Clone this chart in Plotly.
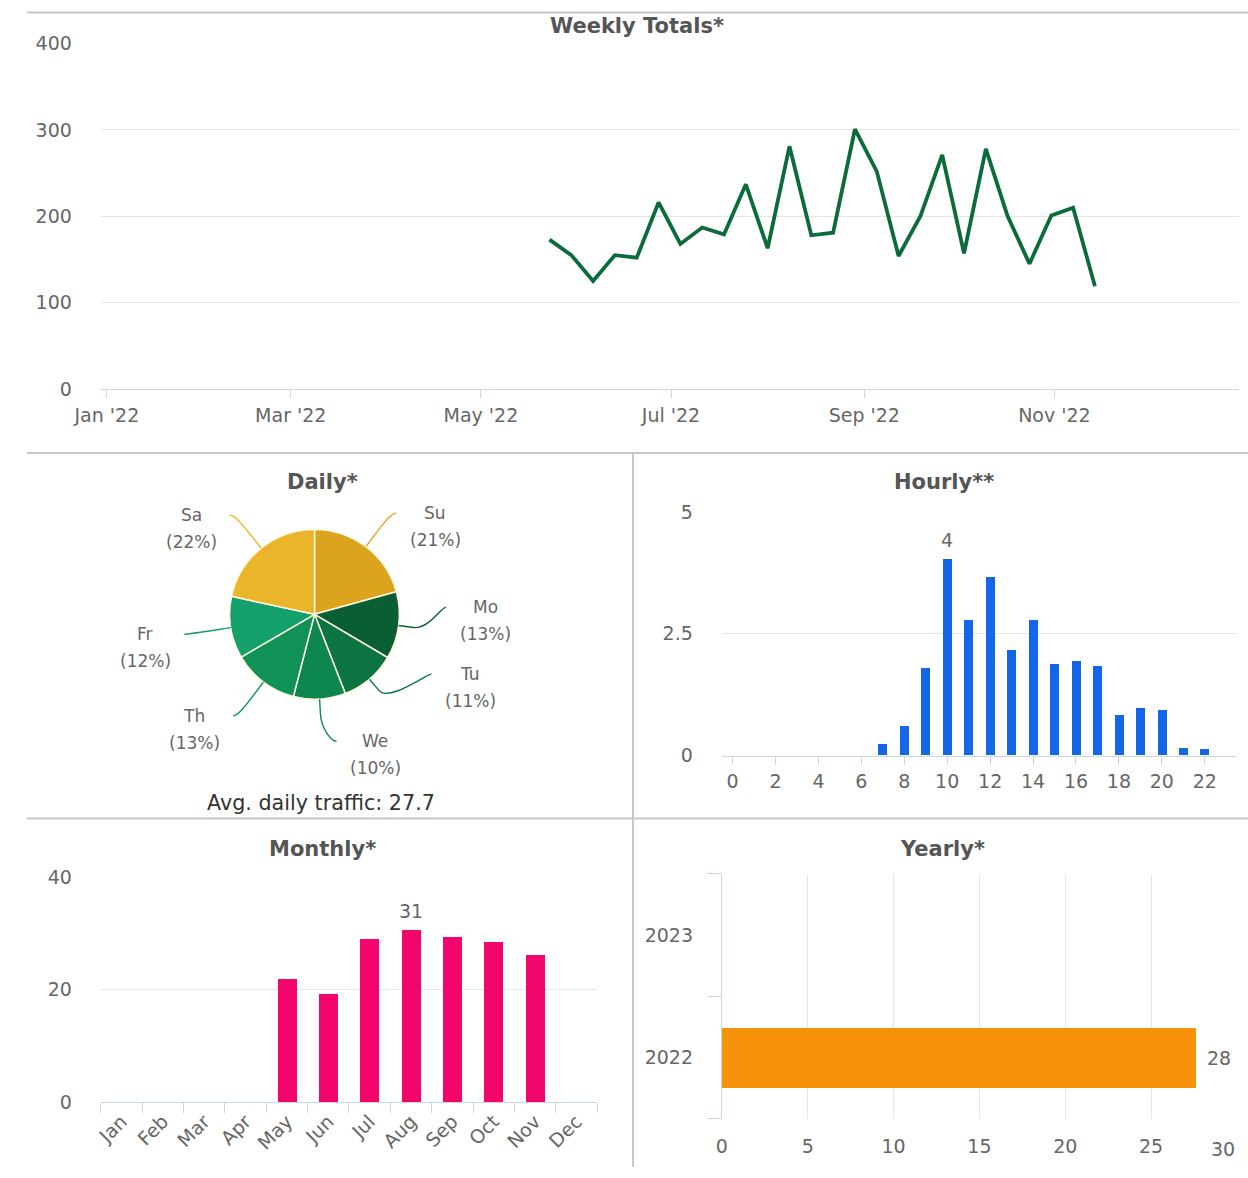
import numpy as np
import plotly.graph_objects as go

# ---------------- data ----------------
week_dates = ["2022-05-23", "2022-05-30", "2022-06-06", "2022-06-13", "2022-06-20", "2022-06-27",
              "2022-07-04", "2022-07-11", "2022-07-18", "2022-07-25", "2022-08-01", "2022-08-08",
              "2022-08-15", "2022-08-22", "2022-08-29", "2022-09-05", "2022-09-12", "2022-09-19",
              "2022-09-26", "2022-10-03", "2022-10-10", "2022-10-17", "2022-10-24", "2022-10-31",
              "2022-11-07", "2022-11-14"]
weekly_totals = [173, 155, 125, 155, 152, 216, 168, 187, 179, 237, 163, 281, 178, 181, 301,
                 252, 154, 200, 271, 157, 278, 200, 145, 201, 210, 119]

days = ["Su", "Mo", "Tu", "We", "Th", "Fr", "Sa"]
daily_share = [20.7, 12.8, 10.6, 9.9, 12.6, 11.8, 21.6]
day_colors = ["#dca41c", "#0a5e34", "#0c7443", "#0e8650", "#0f9157", "#13a06b", "#ebb529"]
avg_daily = 27.7

hours = list(range(24))
hourly = [0, 0, 0, 0, 0, 0, 0, 0.24, 0.61, 1.79, 4.03, 2.79, 3.66, 2.16, 2.79, 1.87,
          1.94, 1.83, 0.82, 0.97, 0.94, 0.16, 0.13, 0]

months = ["Jan", "Feb", "Mar", "Apr", "May", "Jun", "Jul", "Aug", "Sep", "Oct", "Nov", "Dec"]
monthly = [None, None, None, None, 22.0, 19.35, 29.1, 30.7, 29.4, 28.5, 26.25, None]

years = ["2022", "2023"]
yearly = [27.6, None]
year_ticks = [0, 5, 10, 15, 20, 25, 30]

# ---------------- layout helpers ----------------
W, H = 1248, 1178
# the photographed picture shows the page slightly reduced and inset; map target
# picture pixels back to page pixels
S, OX, OY = 0.98, 26.0, 10.5
def px(x):
    return min(max((x - OX) / S / W, 0), 1)
def py(y):
    return min(max(1 - (y - OY) / S / H, 0), 1)

GRID = "#e6e6e6"
AXIS = "#ccd6eb"
TICKC = "#666666"
TITLEC = "#555555"
FONT = "DejaVu Sans"

fig = go.Figure()

fig.add_trace(go.Scatter(x=week_dates, y=weekly_totals, mode="lines",
                         line=dict(color="#0b6b3a", width=3.8),
                         xaxis="x", yaxis="y", showlegend=False))
fig.add_trace(go.Bar(x=hours, y=hourly, marker=dict(color="#1366e8", line=dict(width=0)),
                     width=0.42, xaxis="x2", yaxis="y2", showlegend=False))
fig.add_trace(go.Bar(x=months, y=monthly, marker=dict(color="#f2066c", line=dict(width=0)),
                     width=0.46, xaxis="x3", yaxis="y3", showlegend=False))
fig.add_trace(go.Bar(y=years, x=yearly, orientation="h",
                     marker=dict(color="#f5920a", line=dict(width=0)),
                     width=0.485, xaxis="x4", yaxis="y4", showlegend=False))

cx, cy, r = 314, 613, 85
fig.add_trace(go.Pie(labels=days, values=daily_share, sort=False, direction="clockwise",
                     rotation=0, textinfo="none", showlegend=False,
                     marker=dict(colors=day_colors, line=dict(color="#fff8dc", width=1.5)),
                     domain=dict(x=[px(cx - r), px(cx + r)], y=[py(cy + r), py(cy - r)])))

tickfont = dict(family=FONT, size=19, color=TICKC)
layout = dict(
    width=W, height=H, autosize=False,
    margin=dict(l=0, r=0, t=0, b=0),
    paper_bgcolor="white", plot_bgcolor="white",
    font=dict(family=FONT, color=TICKC),
    bargap=0,
    xaxis=dict(domain=[px(100), px(1240)], anchor="y", type="date",
               range=["2021-12-30 02:00", "2022-12-30 05:00"],
               dtick="M2", tick0="2022-01-01", tickformat="%b '%y",
               showgrid=False, showline=True, linecolor=AXIS, linewidth=1,
               ticks="outside", ticklen=8, tickcolor=AXIS, tickfont=tickfont,
               ticklabelstandoff=1, zeroline=False),
    yaxis=dict(domain=[py(388), py(43)], anchor="x", range=[0, 400], dtick=100,
               showgrid=True, gridcolor=GRID, zeroline=False, showline=False,
               tickfont=tickfont, ticklabelstandoff=28),
    xaxis2=dict(domain=[px(722), px(1238)], anchor="y2", range=[-0.5, 23.5],
                tickvals=list(range(0, 24, 2)), showgrid=False, showline=True,
                linecolor=AXIS, ticks="outside", ticklen=8, tickcolor=AXIS,
                tickfont=tickfont, ticklabelstandoff=1, zeroline=False),
    yaxis2=dict(domain=[py(754), py(511)], anchor="x2", range=[0, 5],
                tickvals=[0, 2.5, 5], showgrid=True, gridcolor=GRID, zeroline=False,
                tickfont=tickfont, ticklabelstandoff=28),
    xaxis3=dict(domain=[px(100), px(597)], anchor="y3", type="category",
                categoryorder="array", categoryarray=months, range=[-0.5, 11.5],
                tickson="boundaries", ticks="outside", ticklen=10, tickcolor=AXIS,
                showline=True, linecolor=AXIS, showgrid=False, tickangle=-45,
                tickfont=tickfont, zeroline=False),
    yaxis3=dict(domain=[py(1100), py(876)], anchor="x3", range=[0, 40], dtick=20,
                showgrid=True, gridcolor=GRID, zeroline=False, tickfont=tickfont,
                ticklabelstandoff=28),
    xaxis4=dict(domain=[px(722), px(1238)], anchor="y4", range=[0, 30],
                tickvals=year_ticks[:-1],
                showgrid=True, gridcolor=GRID, zeroline=False, showline=False,
                tickfont=tickfont, ticklabelstandoff=14),
    yaxis4=dict(domain=[py(1117), py(872)], anchor="x4", type="category",
                categoryorder="array", categoryarray=years, range=[-0.5, 1.5],
                tickson="boundaries", ticks="outside", ticklen=14, tickcolor=AXIS,
                showline=True, linecolor=AXIS, showgrid=False, zeroline=False,
                tickfont=tickfont, ticklabelstandoff=24),
)
fig.update_layout(**layout)

annotations = []
def title(text, x, y):
    annotations.append(dict(text="<b>" + text + "</b>", x=px(x), y=py(y), xref="paper",
                            yref="paper", showarrow=False, xanchor="center", yanchor="middle",
                            font=dict(family=FONT, size=21, color=TITLEC)))
title("Weekly Totals*", 637, 25)
title("Daily*", 322, 481)
title("Hourly**", 945, 481)
title("Monthly*", 322, 847)
title("Yearly*", 943, 847)

annotations.append(dict(text="Avg. daily traffic: %.1f" % avg_daily, x=px(320), y=py(801),
                        xref="paper", yref="paper", showarrow=False, xanchor="center",
                        yanchor="middle", font=dict(family=FONT, size=20.7, color="#333333")))

# last yearly tick label kept inside (right-aligned at the axis end)
annotations.append(dict(text=str(year_ticks[-1]), x=year_ticks[-1], y=py(1147), xref="x4",
                        yref="paper", showarrow=False, xanchor="right", yanchor="middle",
                        font=tickfont))

lab_font = dict(family=FONT, size=19, color="#666666")
hmax = max(hourly)
annotations.append(dict(text=str(round(hmax)), x=hourly.index(hmax), y=hmax, xref="x2",
                        yref="y2", showarrow=False, yanchor="bottom", yshift=6, font=lab_font))
mvals = [v if v is not None else -1 for v in monthly]
mmax = max(mvals)
annotations.append(dict(text=str(round(mmax)), x=mvals.index(mmax), y=mmax, xref="x3",
                        yref="y3", showarrow=False, yanchor="bottom", yshift=6, font=lab_font))
for k, xv in enumerate(yearly):
    if xv is not None:
        annotations.append(dict(text=str(round(xv)), x=xv, y=k, xref="x4", yref="y4",
                                showarrow=False, xanchor="left", xshift=9, font=lab_font))

# pie labels with connectors (geometry derived from the slice angles)
vals = np.array(daily_share, dtype=float)
cum = np.concatenate([[0], np.cumsum(vals)]) / vals.sum() * 360
mids = (cum[:-1] + cum[1:]) / 2
ang = np.deg2rad(mids)
side = np.where(mids < 180, 1, -1)
R_lab = 127
ys = cy - R_lab * np.cos(ang)
gap = 67
for s in (1, -1):
    idx = sorted([i for i in range(len(vals)) if side[i] == s], key=lambda i: ys[i])
    for k in range(len(idx) - 2, -1, -1):
        i, j = idx[k], idx[k + 1]
        if ys[j] - ys[i] < gap:
            ys[i] = ys[j] - gap
xs = cx + side * np.sqrt(np.maximum(R_lab ** 2 - (ys - cy) ** 2, 17 ** 2))

shapes = []
for i in range(len(vals)):
    sa, ca = np.sin(ang[i]), np.cos(ang[i])
    sx, sy = cx + r * sa, cy - r * ca
    bx, by = cx + (r + 15) * sa, cy - (r + 15) * ca
    c2x, c2y = cx + (r + 30) * sa, cy - (r + 30) * ca
    ex, ey = xs[i] + side[i] * 5, ys[i]
    path = "M %.5f,%.5f C %.5f,%.5f %.5f,%.5f %.5f,%.5f L %.5f,%.5f" % (
        px(ex), py(ey), px(xs[i]), py(ys[i]), px(c2x), py(c2y), px(bx), py(by), px(sx), py(sy))
    shapes.append(dict(type="path", path=path, xref="paper", yref="paper",
                       line=dict(color=day_colors[i], width=1.4)))
    lx = xs[i] + side[i] * 44
    pct = "(%d%%)" % round(vals[i] / vals.sum() * 100)
    for txt, yy in ((days[i], ys[i]), (pct, ys[i] + 27)):
        annotations.append(dict(text=txt, x=px(lx), y=py(yy), xref="paper", yref="paper",
                                showarrow=False, xanchor="center", yanchor="middle",
                                font=dict(family=FONT, size=17, color="#666666")))

SEP = "#c8c8c8"
top_y = 1 - 1.5 / H
shapes += [
    dict(type="line", xref="paper", yref="paper", x0=0, x1=1, y0=top_y, y1=top_y,
         line=dict(color=SEP, width=2)),
    dict(type="line", xref="paper", yref="paper", x0=0, x1=1, y0=py(452), y1=py(452),
         line=dict(color=SEP, width=2)),
    dict(type="line", xref="paper", yref="paper", x0=0, x1=1, y0=py(817), y1=py(817),
         line=dict(color=SEP, width=2)),
    dict(type="line", xref="paper", yref="paper", x0=px(633), x1=px(633), y0=py(452), y1=0,
         line=dict(color=SEP, width=2)),
]

fig.update_layout(annotations=annotations, shapes=shapes)
fig.write_html("out.html", config={"displayModeBar": False},
               post_script="document.documentElement.style.margin='0';"
                           "document.body.style.margin='0';"
                           "document.documentElement.style.overflow='hidden';"
                           "document.body.style.overflow='hidden';")
